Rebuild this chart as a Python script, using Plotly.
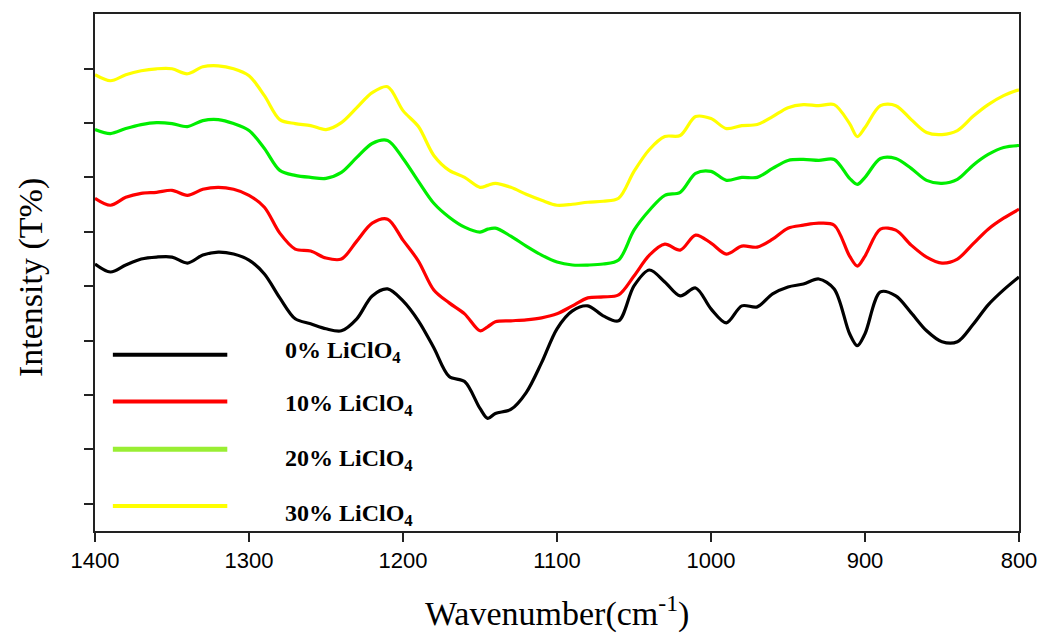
import plotly.graph_objects as go

wavenumber = [1400, 1390, 1380, 1370, 1360, 1350, 1340, 1330, 1320, 1310,
              1300, 1290, 1280, 1270, 1260, 1250, 1240, 1230, 1220, 1210,
              1200, 1190, 1180, 1170, 1160, 1150, 1145, 1140, 1130, 1120,
              1110, 1100, 1090, 1080, 1070, 1060, 1050, 1040, 1030, 1020,
              1010, 1000, 990, 980, 970, 960, 950, 940, 930, 920,
              910, 905, 900, 890, 880, 870, 860, 850, 840, 830,
              820, 810, 800]

licl_0 = [268, 260, 267, 273, 275, 275, 269, 277, 280, 278,
          272, 258, 234, 213, 208, 203, 201, 213, 236, 243,
          231, 211, 184, 155, 150, 123, 113, 118, 122, 139,
          169, 203, 221, 226, 216, 211, 246, 262, 250, 236,
          244, 223, 209, 226, 225, 238, 245, 248, 253, 243,
          198, 186, 198, 240, 236, 219, 201, 190, 190, 207,
          227, 242, 255]

licl_10 = [334, 327, 335, 339, 340, 342, 337, 343, 345, 343,
           337, 325, 299, 283, 281, 274, 273, 291, 309, 313,
           292, 271, 242, 229, 218, 201, 205, 210, 211, 212,
           214, 218, 226, 234, 235, 237, 256, 277, 288, 282,
           297, 289, 278, 286, 285, 293, 304, 307, 309, 307,
           276, 266, 276, 303, 302, 287, 275, 269, 273, 288,
           303, 314, 323]

licl_20 = [403, 399, 404, 408, 410, 409, 406, 412, 413, 409,
           402, 384, 362, 357, 355, 354, 360, 375, 389, 392,
           374, 351, 329, 315, 305, 300, 303, 304, 296, 286,
           277, 270, 267, 267, 268, 272, 302, 322, 337, 340,
           359, 361, 352, 355, 355, 364, 372, 373, 372, 373,
           354, 348, 355, 374, 374, 364, 352, 349, 353, 367,
           378, 385, 387]

licl_30 = [458, 452, 458, 462, 464, 464, 459, 466, 467, 464,
           457, 437, 413, 409, 407, 403, 410, 425, 440, 446,
           422, 406, 377, 362, 355, 345, 347, 349, 345, 338,
           332, 327, 328, 330, 331, 334, 361, 383, 396, 397,
           416, 414, 404, 407, 408, 416, 425, 428, 427, 428,
           409, 396, 405, 427, 427, 413, 400, 398, 402, 416,
           428, 437, 443]

series_names = ["0% LiClO<sub>4</sub>", "10% LiClO<sub>4</sub>",
                "20% LiClO<sub>4</sub>", "30% LiClO<sub>4</sub>"]
series_data = [licl_0, licl_10, licl_20, licl_30]
curve_colors = ["#000000", "#ff0000", "#00ee00", "#ffff00"]
legend_colors = ["#000000", "#ff0000", "#99ee33", "#ffff00"]
legend_widths = [4, 4, 5, 4]
legend_line_y = [177, 130, 82, 25]
legend_text_y = [180, 126, 71, 16]

y_ticks = [27.3 + 54.6 * k for k in range(9)]

fig = go.Figure()
for name, vals, col in zip(series_names, series_data, curve_colors):
    fig.add_trace(go.Scatter(x=wavenumber, y=vals, mode="lines", name=name,
                             line=dict(color=col, width=3.2, shape="spline", smoothing=0.9),
                             showlegend=False))

for col, w, ly, ty, name in zip(legend_colors, legend_widths, legend_line_y, legend_text_y, series_names):
    fig.add_shape(type="line", xref="x", yref="y", x0=1388.4, x1=1314.1, y0=ly, y1=ly,
                  line=dict(color=col, width=w))
    fig.add_annotation(x=1278, y=ty, xref="x", yref="y", text="<b>" + name + "</b>",
                       showarrow=False, xanchor="left", yanchor="middle",
                       font=dict(family="Liberation Serif", size=24, color="#000000"))

fig.add_annotation(x=0.5, y=-0.156, xref="paper", yref="paper",
                   text="Wavenumber(cm<sup>-1</sup>)", showarrow=False,
                   xanchor="center", yanchor="middle",
                   font=dict(family="Liberation Serif", size=34, color="#000000"))
fig.add_annotation(x=-0.07, y=0.49, xref="paper", yref="paper",
                   text="Intensity (T%)", showarrow=False, textangle=-90,
                   xanchor="center", yanchor="middle",
                   font=dict(family="Liberation Serif", size=34, color="#000000"))

fig.update_layout(
    width=1049, height=638,
    margin=dict(l=95, r=25, t=12, b=107),
    paper_bgcolor="white", plot_bgcolor="white",
    xaxis=dict(range=[1400, 800], showgrid=False, zeroline=False,
               showline=True, linecolor="#222222", linewidth=2, mirror=True,
               ticks="outside", ticklen=9, tickwidth=1.5, tickcolor="#222222",
               tickvals=[1400, 1300, 1200, 1100, 1000, 900, 800],
               tickfont=dict(family="Liberation Sans", size=22, color="#000000")),
    yaxis=dict(range=[0, 519], showgrid=False, zeroline=False,
               showline=True, linecolor="#222222", linewidth=2, mirror=True,
               ticks="outside", ticklen=9, tickwidth=1.5, tickcolor="#222222",
               tickvals=y_ticks, showticklabels=False),
)

fig.write_html("out.html")
